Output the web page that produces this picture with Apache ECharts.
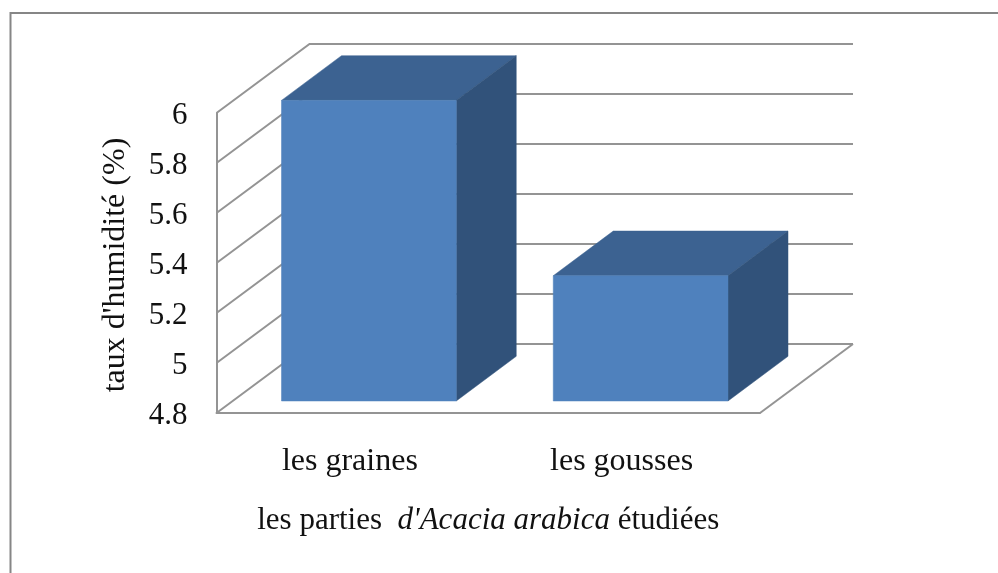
<!DOCTYPE html>
<html>
<head>
<meta charset="utf-8">
<title>Taux d'humidité</title>
<style>
  html, body { margin: 0; padding: 0; background: #fff; }
  #chart { position: absolute; left: 0; top: 0; width: 998px; height: 573px; }
</style>
<script src="https://cdn.jsdelivr.net/npm/echarts@6/dist/echarts.min.js"></script>
</head>
<body>
<div id="chart"></div>
<script>
// Moisture content per studied plant part
const categories = ['les graines', 'les gousses'];
const moisture = [6, 5.3];
const wallTicks = [4.8, 5, 5.2, 5.4, 5.6, 5.8, 6];

const serif = '"Liberation Serif", serif';
const lineGrey = '#949494';

// Oblique projection of the chart box
const WALL_DX = 93, WALL_DY = -69;
const BAR_DX = 60, BAR_DY = -44.7;
const BAR_SHIFT_X = 16.5, BAR_SHIFT_Y = -12, BAR_SCALE_Y = 1.002;
const BAR_RATIO = 0.643;

function renderWallLine(params, api) {
  const v = api.value(0);
  const grid = params.coordSys;
  const y = api.coord([0, v])[1];
  const lineStyle = { stroke: lineGrey, lineWidth: 2, fill: null };
  const children = [{
    type: 'polyline',
    shape: { points: [[grid.x, y], [grid.x + WALL_DX, y + WALL_DY], [grid.x + grid.width + WALL_DX, y + WALL_DY]] },
    style: lineStyle
  }];
  if (v === wallTicks[0]) {
    children.push({
      type: 'line',
      shape: { x1: grid.x + grid.width, y1: y, x2: grid.x + grid.width + WALL_DX, y2: y + WALL_DY },
      style: lineStyle
    });
  }
  return { type: 'group', children };
}

function renderBar(params, api) {
  const grid = params.coordSys;
  const top = api.coord([api.value(0), api.value(1)]);
  const baseY = grid.y + grid.height;
  const w = api.size([1, 0])[0] * BAR_RATIO;
  const x0 = top[0] - w / 2 + BAR_SHIFT_X;
  const x1 = x0 + w;
  const y1 = baseY + BAR_SHIFT_Y;
  const y0 = y1 - (baseY - top[1]) * BAR_SCALE_Y;
  const face = (points, fill) => ({
    type: 'polygon',
    shape: { points },
    style: { fill, stroke: fill, lineWidth: 0.5 }
  });
  return {
    type: 'group',
    children: [
      face([[x0, y0], [x1, y0], [x1 + BAR_DX, y0 + BAR_DY], [x0 + BAR_DX, y0 + BAR_DY]], '#3c6291'),
      face([[x1, y0], [x1 + BAR_DX, y0 + BAR_DY], [x1 + BAR_DX, y1 + BAR_DY], [x1, y1]], '#31527a'),
      face([[x0, y0], [x1, y0], [x1, y1], [x0, y1]], '#4f81bd')
    ]
  };
}

const chart = echarts.init(document.getElementById('chart'), null, { renderer: 'canvas' });
chart.setOption({
  animation: false,
  backgroundColor: '#fff',
  textStyle: { fontFamily: serif },
  graphic: [{
    type: 'polyline',
    silent: true,
    shape: { points: [[10.5, 573], [10.5, 13], [998, 13]] },
    style: { stroke: '#868686', lineWidth: 2, fill: null }
  }],
  grid: { left: 216.5, top: 113, width: 543.5, height: 300 },
  xAxis: {
    type: 'category',
    data: categories,
    axisLine: { lineStyle: { color: lineGrey, width: 2 } },
    axisTick: { show: false },
    axisLabel: { color: '#111', fontFamily: serif, fontSize: 32, margin: 33, padding: [0, 5, 0, 0] },
    name: '{t|les parties  }{i|d\'Acacia arabica}{t| étudiées}',
    nameLocation: 'middle',
    nameGap: 92,
    nameTextStyle: {
      rich: {
        t: { fontFamily: serif, fontSize: 31, color: '#111' },
        i: { fontFamily: serif, fontSize: 31, fontStyle: 'italic', color: '#111' }
      }
    }
  },
  yAxis: {
    type: 'value',
    min: 4.8,
    max: 6,
    interval: 0.2,
    splitLine: { show: false },
    axisLine: { show: true, lineStyle: { color: lineGrey, width: 2 } },
    axisTick: { show: false },
    axisLabel: {
      color: '#111',
      fontFamily: serif,
      fontSize: 31,
      margin: 29,
      formatter: (v) => '{n|' + (Math.round(v * 10) / 10) + '}',
      rich: { n: { fontFamily: serif, fontSize: 31, color: '#111', padding: [6, 0, 0, 0] } }
    },
    name: "taux d'humidité (%)",
    nameLocation: 'middle',
    nameRotate: 90,
    nameGap: 85,
    nameTextStyle: { color: '#111', fontFamily: serif, fontSize: 32, padding: [0, 4, 0, 0] }
  },
  series: [
    {
      type: 'custom',
      name: 'parois',
      z: 1,
      silent: true,
      renderItem: renderWallLine,
      encode: { y: 0 },
      data: wallTicks.map((v) => [v])
    },
    {
      type: 'custom',
      name: "taux d'humidité",
      z: 2,
      renderItem: renderBar,
      encode: { x: 0, y: 1 },
      data: categories.map((c, i) => [i, moisture[i]])
    }
  ]
});
</script>
</body>
</html>
